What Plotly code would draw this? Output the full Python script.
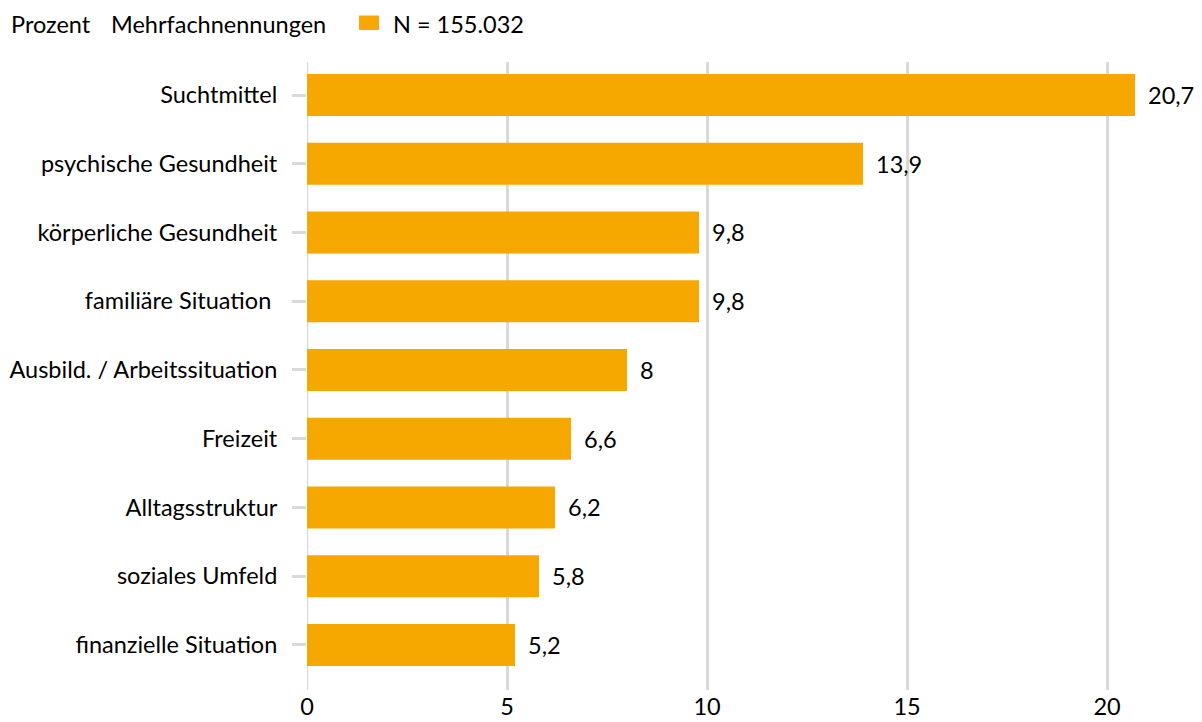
import plotly.graph_objects as go

# Problembereiche (Mehrfachnennungen), Angaben in Prozent
categories = [
    "Suchtmittel",
    "psychische Gesundheit",
    "körperliche Gesundheit",
    "familiäre Situation ",
    "Ausbild. / Arbeitssituation",
    "Freizeit",
    "Alltagsstruktur",
    "soziales Umfeld",
    "finanzielle Situation",
]
values = [20.7, 13.9, 9.8, 9.8, 8.0, 6.6, 6.2, 5.8, 5.2]
value_labels = ["20,7", "13,9", "9,8", "9,8", "8", "6,6", "6,2", "5,8", "5,2"]
x_ticks = [0, 5, 10, 15, 20]
series_name = "N = 155.032"

BAR = "#F7A800"
GRID = "#D9D9D9"
FONT = "Lato, 'Noto Sans', sans-serif"
FS = 23.5

fig = go.Figure()
fig.add_trace(go.Bar(
    y=categories,
    x=values,
    orientation="h",
    name=series_name,
    marker=dict(color=BAR, line=dict(width=0)),
    width=0.61,
    showlegend=False,
))

# value labels to the right of each bar
for cat, val, lab in zip(categories, values, value_labels):
    fig.add_annotation(
        x=val, y=cat, text=lab, xref="x", yref="y",
        xanchor="left", yanchor="middle", xshift=11, showarrow=False,
        font=dict(size=FS, color="#000000", family=FONT),
    )

# header line: unit, note and a legend key for the series
HEADER_Y = 1.060
for xpos, txt in [(-0.3465, "Prozent"), (-0.2302, "Mehrfachnennungen"),
                  (0.0977, series_name)]:
    fig.add_annotation(
        x=xpos, y=HEADER_Y, xref="paper", yref="paper",
        xanchor="left", yanchor="middle", text=txt, showarrow=False,
        font=dict(size=FS, color="#000000", family=FONT),
    )
fig.add_shape(type="rect", xref="paper", yref="paper",
              x0=0.0605, x1=0.0837, y0=1.0510, y1=1.0740,
              fillcolor=BAR, line=dict(width=0))

fig.update_layout(
    width=1202, height=722,
    margin=dict(l=307, r=35, t=62, b=32, autoexpand=False),
    paper_bgcolor="white", plot_bgcolor="white",
    font=dict(family=FONT, size=FS, color="#000000"),
    showlegend=False,
)

fig.update_xaxes(
    range=[0, 21.5], tickvals=x_ticks, ticktext=[str(t) for t in x_ticks],
    showgrid=True, gridcolor=GRID, gridwidth=2.5, zeroline=False,
    showline=False, ticks="", tickfont=dict(size=FS), automargin=False,
)
fig.update_yaxes(
    categoryorder="array", categoryarray=categories,
    range=[8.655, -0.48], showgrid=False, zeroline=False, showline=False,
    ticks="outside", ticklen=14, tickwidth=2.5, tickcolor=GRID,
    ticklabelstandoff=10, tickfont=dict(size=FS), automargin=False,
)

# vertical line at x=0 as part of the grid
fig.add_shape(type="line", xref="x", yref="paper", x0=0, x1=0, y0=0, y1=1,
              line=dict(color=GRID, width=2.5), layer="below")

fig.write_html("out.html")
